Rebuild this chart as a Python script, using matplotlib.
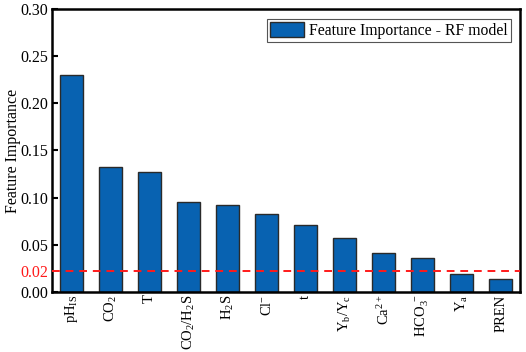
import numpy as np
import matplotlib.pyplot as plt

plt.rcParams['font.family'] = 'Liberation Serif'
plt.rcParams['mathtext.fontset'] = 'custom'
plt.rcParams['mathtext.rm'] = 'Liberation Serif'
plt.rcParams['mathtext.it'] = 'Liberation Serif'

# Datos
features = [r'pH$_{\mathrm{IS}}$', r'CO$_2$', 'T', r'CO$_2$/H$_2$S', r'H$_2$S',
            r'Cl$^{-}$', 't', r'Y$_b$/Y$_c$', r'Ca$^{2+}$', r'HCO$_3^{\ -}$',
            r'Y$_a$', 'PREN']
importance = [0.230, 0.132, 0.127, 0.095, 0.092, 0.083, 0.071, 0.057,
              0.041, 0.036, 0.019, 0.014]
threshold = 0.0225
threshold_label = '0.02'
yticks = [0.00, 0.05, 0.10, 0.15, 0.20, 0.25, 0.30]

fig = plt.figure(figsize=(5.26, 3.52), dpi=100)
ax = fig.add_axes([0.099, 0.171, 0.890, 0.803])

x = np.arange(len(features))
ax.bar(x, importance, width=0.6, color='#0862b1', edgecolor='#2a2a2a',
       linewidth=1.0, label='Feature Importance - RF model', zorder=2)
ax.axhline(threshold, color='#ff1a1a', linestyle=(0, (4, 3)), linewidth=1.4,
           zorder=3)

ax.set_xlim(-0.5, len(features) - 0.5)
ax.set_ylim(0, 0.30)
ax.set_xticks(x)
ax.set_xticklabels(features, rotation=90, fontsize=10.5)
ax.tick_params(axis='x', length=0, pad=2)

ticks = sorted(yticks + [threshold])
labels = [threshold_label if t == threshold else f'{t:.2f}' for t in ticks]
ax.set_yticks(ticks)
ax.set_yticklabels(labels, fontsize=11.5)
ax.tick_params(axis='y', direction='in', length=4, width=1.5, pad=3)
k = ticks.index(threshold)
ax.yaxis.get_major_ticks()[k].tick1line.set_visible(False)
ax.get_yticklabels()[k].set_color('#ff1a1a')

for s in ax.spines.values():
    s.set_linewidth(1.8)

ax.set_ylabel('Feature Importance', fontsize=11.5)
ax.yaxis.set_label_coords(-0.066, 0.5)

leg = ax.legend(loc='upper right', fontsize=11.3, fancybox=False, framealpha=1,
                edgecolor='#555555', handlelength=2.2, handleheight=1.1,
                handletextpad=0.3, borderpad=0.2, borderaxespad=0.6)
leg.get_frame().set_linewidth(0.8)

fig.savefig('out.png', dpi=100)
